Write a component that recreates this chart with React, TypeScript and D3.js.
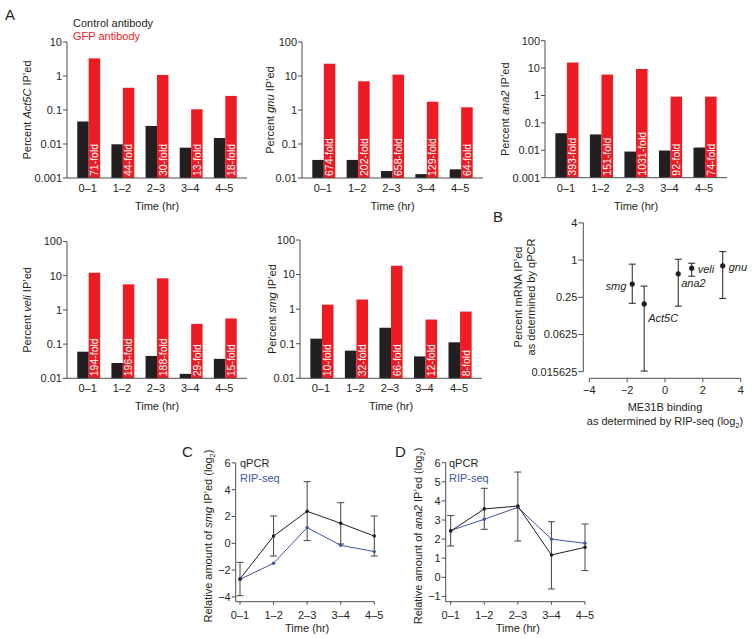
import React from "react";
import * as d3 from "d3";

// ---------- Data ----------
const timeCats = ["0–1", "1–2", "2–3", "3–4", "4–5"];

const act5cControl = [0.046, 0.0098, 0.034, 0.0078, 0.015];
const act5cGFP = [3.3, 0.45, 1.07, 0.105, 0.26];
const act5cFold = ["71-fold", "44-fold", "30-fold", "13-fold", "18-fold"];
const act5cTicks = [10, 1, 0.1, 0.01, 0.001];

const gnuControl = [0.034, 0.034, 0.016, 0.013, 0.018];
const gnuGFP = [23, 7, 11, 1.75, 1.2];
const gnuFold = ["674-fold", "202-fold", "658-fold", "129-fold", "64-fold"];
const gnuTicks = [100, 10, 1, 0.1, 0.01];

const ana2Control = [0.042, 0.038, 0.009, 0.0098, 0.0126];
const ana2GFP = [16, 5.8, 9.3, 0.91, 0.91];
const ana2Fold = ["393-fold", "151-fold", "1031-fold", "92-fold", "74-fold"];
const ana2Ticks = [100, 10, 1, 0.1, 0.01, 0.001];

const veliControl = [0.06, 0.028, 0.045, 0.0135, 0.037];
const veliGFP = [12.2, 5.6, 8.4, 0.39, 0.56];
const veliFold = ["194-fold", "196-fold", "188-fold", "29-fold", "15-fold"];
const veliTicks = [100, 10, 1, 0.1, 0.01];

const smgControl = [0.14, 0.063, 0.29, 0.043, 0.11];
const smgGFP = [1.35, 1.9, 18, 0.5, 0.85];
const smgFold = ["10-fold", "32-fold", "66-fold", "12-fold", "8-fold"];
const smgTicks = [100, 10, 1, 0.1, 0.01];

// Panel B
const bGenes = ["smg", "Act5C", "ana2", "veli", "gnu"];
const bRipSeq = [-1.73, -1.1, 0.7, 1.41, 3.05];
const bQpcr = [0.41, 0.195, 0.6, 0.74, 0.81];
const bQpcrLow = [0.2, 0.016, 0.18, 0.55, 0.24];
const bQpcrHigh = [0.86, 0.38, 1.03, 0.89, 1.37];
const bYTicks = [4, 1, 0.25, 0.0625, 0.015625];
const bXTicks = [-4, -2, 0, 2, 4];

// Panel C (smg)
const cQpcr = [-2.66, 0.54, 2.39, 1.49, 0.54];
const cQpcrLow = [-3.91, -0.95, 0.2, -0.05, -0.95];
const cQpcrHigh = [-1.42, 2.04, 4.6, 3.03, 2.04];
const cRipSeq = [-2.69, -1.49, 1.17, -0.15, -0.62];
const cTicks = [-4, -2, 0, 2, 4, 6];

// Panel D (ana2)
const dQpcr = [2.42, 3.58, 3.73, 1.17, 1.57];
const dQpcrLow = [1.64, 2.51, 1.9, -0.61, 0.35];
const dQpcrHigh = [3.23, 4.66, 5.51, 2.91, 2.79];
const dRipSeq = [2.45, 3.04, 3.66, 2.0, 1.78];
const dTicks = [-1, 0, 1, 2, 3, 4, 5, 6];

// ---------- Style ----------
const RED = "#ed1c24";
const BLACK = "#231f20";
const BLUE = "#3d55a5";
const AXIS = "#4d4d4f";
const FONT = "'Liberation Sans', Arial, Helvetica, sans-serif";
const FS = 11;

const fmtMinus = (v: number) => (v < 0 ? "−" + Math.abs(v) : String(v));

function BarPanel(props: any) {
  const { ax, xEnd, yTop, yBot, ticks, control, gfp, fold, gene, ylabX } = props;
  const y = d3
    .scaleLog()
    .domain([ticks[ticks.length - 1], ticks[0]])
    .range([yBot, yTop]);
  const x = d3
    .scaleBand<string>()
    .domain(timeCats)
    .range([ax, xEnd])
    .paddingInner(0.33)
    .paddingOuter(0.3);
  const bw = x.bandwidth() / 2;
  const midY = (yTop + yBot) / 2;
  return (
    <g>
      {timeCats.map((c, i) => (
        <g key={c}>
          <rect
            x={x(c)!}
            y={y(control[i])}
            width={bw}
            height={yBot - y(control[i])}
            fill={BLACK}
          />
          <rect
            x={x(c)! + bw}
            y={y(gfp[i])}
            width={bw}
            height={yBot - y(gfp[i])}
            fill={RED}
          />
          <text
            transform={`translate(${x(c)! + bw * 1.5},${yBot - 2}) rotate(-90)`}
            dy="0.36em"
            fill="#fff"
            fontSize={10.5}
          >
            {fold[i]}
          </text>
          <text
            x={x(c)! + x.bandwidth() / 2 - 1}
            y={yBot + 10}
            dy="0.35em"
            textAnchor="middle"
            fontSize={FS}
          >
            {c}
          </text>
        </g>
      ))}
      <path
        d={`M${ax},${yTop}V${yBot}H${xEnd}`}
        fill="none"
        stroke={AXIS}
        strokeWidth={1}
      />
      {ticks.map((t: number) => (
        <g key={t}>
          <line x1={ax - 4} x2={ax} y1={y(t)} y2={y(t)} stroke={AXIS} />
          <text
            x={ax - 5}
            y={y(t)}
            dy="0.35em"
            textAnchor="end"
            fontSize={FS}
          >
            {String(t)}
          </text>
        </g>
      ))}
      <text
        x={(ax + xEnd) / 2}
        y={yBot + 28}
        dy="0.35em"
        textAnchor="middle"
        fontSize={FS}
      >
        Time (hr)
      </text>
      <text
        transform={`translate(${ylabX},${midY}) rotate(-90)`}
        dy="0.35em"
        textAnchor="middle"
        fontSize={FS}
      >
        Percent <tspan fontStyle="italic">{gene}</tspan> IP’ed
      </text>
    </g>
  );
}

function PanelB() {
  const yB = d3.scaleLog().base(2).domain([0.015625, 4]).range([371.7, 222.9]);
  const xB = d3.scaleLinear().domain([-4, 4]).range([589.3, 740.7]);
  const axX = 583.3;
  const axY = 378.3;
  const labelPos: Record<string, [number, number, string]> = {
    smg: [-6, 6, "end"],
    Act5C: [4, 18, "start"],
    ana2: [3, 13, "start"],
    veli: [6, 5, "start"],
    gnu: [6, 5, "start"],
  };
  return (
    <g>
      <line x1={axX} x2={axX} y1={yB(4)} y2={yB(0.015625)} stroke={AXIS} />
      {bYTicks.map((t) => (
        <g key={t}>
          <line x1={axX - 5} x2={axX} y1={yB(t)} y2={yB(t)} stroke={AXIS} />
          <text x={axX - 6} y={yB(t)} dy="0.35em" textAnchor="end" fontSize={FS}>
            {String(t)}
          </text>
        </g>
      ))}
      <line x1={xB(-4)} x2={xB(4)} y1={axY} y2={axY} stroke={AXIS} />
      {bXTicks.map((t) => (
        <g key={t}>
          <line x1={xB(t)} x2={xB(t)} y1={axY} y2={axY + 4} stroke={AXIS} />
          <text x={xB(t)} y={axY + 12} dy="0.35em" textAnchor="middle" fontSize={FS}>
            {fmtMinus(t)}
          </text>
        </g>
      ))}
      {bGenes.map((g, i) => {
        const px = xB(bRipSeq[i]);
        const py = yB(bQpcr[i]);
        const lp = labelPos[g];
        return (
          <g key={g}>
            <line x1={px} x2={px} y1={yB(bQpcrLow[i])} y2={yB(bQpcrHigh[i])} stroke={BLACK} />
            <line x1={px - 3.5} x2={px + 3.5} y1={yB(bQpcrLow[i])} y2={yB(bQpcrLow[i])} stroke={BLACK} />
            <line x1={px - 3.5} x2={px + 3.5} y1={yB(bQpcrHigh[i])} y2={yB(bQpcrHigh[i])} stroke={BLACK} />
            <circle cx={px} cy={py} r={2.6} fill={BLACK} />
            <text
              x={px + lp[0]}
              y={py + lp[1]}
              textAnchor={lp[2] as any}
              fontStyle="italic"
              fontSize={FS}
            >
              {g}
            </text>
          </g>
        );
      })}
      <text x={665} y={410.5} textAnchor="middle" fontSize={FS}>
        ME31B binding
      </text>
      <text x={665} y={424.5} textAnchor="middle" fontSize={FS}>
        as determined by RIP-seq (log
        <tspan fontSize={7.5} dy={3}>2</tspan>
        <tspan dy={-3}>)</tspan>
      </text>
      <text transform={`translate(518,297) rotate(-90)`} dy="0.35em" textAnchor="middle" fontSize={FS}>
        Percent mRNA IP’ed
      </text>
      <text transform={`translate(531,297) rotate(-90)`} dy="0.35em" textAnchor="middle" fontSize={FS}>
        as determined by qPCR
      </text>
    </g>
  );
}

function LinePanel(props: any) {
  const { ax, axY, xStart, xEnd, yDomain, yRange, ticks, qpcr, low, high, rip, gene, ylabX, legX } = props;
  const y = d3.scaleLinear().domain(yDomain).range(yRange);
  const x = d3.scalePoint<string>().domain(timeCats).range([xStart, xEnd]);
  const line = d3
    .line<number>()
    .x((_, i) => x(timeCats[i])!)
    .y((v) => y(v));
  const yTopV = yDomain[1];
  return (
    <g>
      <path d={`M${ax},${y(yTopV)}V${axY}H${xEnd}`} fill="none" stroke={AXIS} />
      {ticks.map((t: number) => (
        <g key={t}>
          <line x1={ax - 4} x2={ax} y1={y(t)} y2={y(t)} stroke={AXIS} />
          <text x={ax - 5} y={y(t)} dy="0.35em" textAnchor="end" fontSize={FS}>
            {fmtMinus(t)}
          </text>
        </g>
      ))}
      {timeCats.map((c) => (
        <g key={c}>
          <line x1={x(c)!} x2={x(c)!} y1={axY} y2={axY + 3} stroke={AXIS} />
          <text x={x(c)!} y={axY + 13} dy="0.35em" textAnchor="middle" fontSize={FS}>
            {c}
          </text>
        </g>
      ))}
      <text x={(xStart + xEnd) / 2} y={axY + 26} dy="0.35em" textAnchor="middle" fontSize={FS}>
        Time (hr)
      </text>
      {timeCats.map((c, i) => (
        <g key={"e" + c}>
          <line x1={x(c)!} x2={x(c)!} y1={y(low[i])} y2={y(high[i])} stroke="#444" />
          <line x1={x(c)! - 3.5} x2={x(c)! + 3.5} y1={y(low[i])} y2={y(low[i])} stroke="#444" />
          <line x1={x(c)! - 3.5} x2={x(c)! + 3.5} y1={y(high[i])} y2={y(high[i])} stroke="#444" />
        </g>
      ))}
      <path d={line(rip)!} fill="none" stroke={BLUE} strokeWidth={1} />
      <path d={line(qpcr)!} fill="none" stroke={BLACK} strokeWidth={1} />
      {rip.map((v: number, i: number) => (
        <circle key={"r" + i} cx={x(timeCats[i])!} cy={y(v)} r={1.7} fill={BLUE} />
      ))}
      {qpcr.map((v: number, i: number) => (
        <circle key={"q" + i} cx={x(timeCats[i])!} cy={y(v)} r={1.8} fill={BLACK} />
      ))}
      <text x={legX} y={467} fontSize={FS}>
        qPCR
      </text>
      <text x={legX} y={482} fontSize={FS} fill={BLUE}>
        RIP-seq
      </text>
      <text transform={`translate(${ylabX},536) rotate(-90)`} dy="0.35em" textAnchor="middle" fontSize={FS}>
        Relative amount of <tspan fontStyle="italic">{gene}</tspan> IP’ed (log
        <tspan fontSize={7.5} dy={3}>2</tspan>
        <tspan dy={-3}>)</tspan>
      </text>
    </g>
  );
}

export default function App() {
  return (
    <svg
      width={754}
      height={639}
      style={{ position: "absolute", left: 0, top: 0, background: "#fff" }}
      fontFamily={FONT}
      fill="#231f20"
    >
      <text x={5} y={20} fontSize={15}>A</text>
      <text x={493} y={222} fontSize={15}>B</text>
      <text x={182} y={457} fontSize={15}>C</text>
      <text x={395} y={457} fontSize={15}>D</text>

      <text x={73} y={27} fontSize={FS}>Control antibody</text>
      <text x={73} y={40} fontSize={FS} fill={RED}>GFP antibody</text>

      <BarPanel ax={67} xEnd={247} yTop={42} yBot={178} ticks={act5cTicks}
        control={act5cControl} gfp={act5cGFP} fold={act5cFold} gene="Act5C" ylabX={27} />
      <BarPanel ax={302} xEnd={483} yTop={42} yBot={178} ticks={gnuTicks}
        control={gnuControl} gfp={gnuGFP} fold={gnuFold} gene="gnu" ylabX={270} />
      <BarPanel ax={545} xEnd={727} yTop={40.7} yBot={177.7} ticks={ana2Ticks}
        control={ana2Control} gfp={ana2GFP} fold={ana2Fold} gene="ana2" ylabX={505} />
      <BarPanel ax={67} xEnd={247} yTop={241.5} yBot={378.3} ticks={veliTicks}
        control={veliControl} gfp={veliGFP} fold={veliFold} gene="veli" ylabX={27} />
      <BarPanel ax={300} xEnd={482} yTop={240} yBot={378.3} ticks={smgTicks}
        control={smgControl} gfp={smgGFP} fold={smgFold} gene="smg" ylabX={272} />

      <PanelB />

      <LinePanel ax={235.7} axY={601.7} xStart={240} xEnd={374.3}
        yDomain={[-4, 6]} yRange={[596.9, 462.9]} ticks={cTicks}
        qpcr={cQpcr} low={cQpcrLow} high={cQpcrHigh} rip={cRipSeq}
        gene="smg" ylabX={208} legX={240} />
      <LinePanel ax={445.7} axY={601.7} xStart={450.7} xEnd={585}
        yDomain={[-1, 6]} yRange={[596.4, 462.7]} ticks={dTicks}
        qpcr={dQpcr} low={dQpcrLow} high={dQpcrHigh} rip={dRipSeq}
        gene="ana2" ylabX={418} legX={449} />
    </svg>
  );
}
